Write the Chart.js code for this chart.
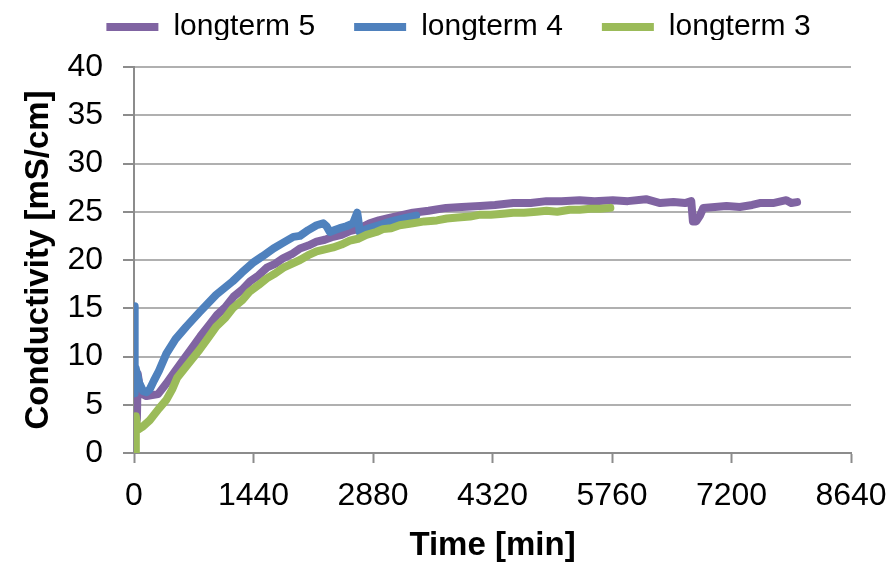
<!DOCTYPE html>
<html>
<head>
<meta charset="utf-8">
<script src="https://cdn.jsdelivr.net/npm/chart.js@4/dist/chart.umd.min.js"></script>
<style>
  html, body { margin: 0; padding: 0; background: #ffffff; }
  #wrap { width: 894px; height: 562px; }
</style>
</head>
<body>
<div id="wrap"><canvas id="chart" width="894" height="562"></canvas></div>
<script>
// Conductivity logs of three long-term runs: [time in min, conductivity in mS/cm]
const longterm5 = [
  [35,3.5],[45,8.2],[80,6.2],[150,5.9],[220,6.0],[290,6.1],[390,7.2],[490,8.4],[590,9.6],
  [700,10.9],[800,12.1],[900,13.2],[1000,14.3],[1100,15.1],[1200,16.2],[1300,16.9],
  [1400,17.8],[1500,18.4],[1600,19.2],[1700,19.6],[1800,20.2],[1900,20.6],[2000,21.2],
  [2100,21.5],[2200,21.9],[2300,22.1],[2400,22.4],[2500,22.6],[2600,23.0],[2700,23.2],
  [2840,23.8],[2950,24.1],[3050,24.3],[3200,24.6],[3360,24.9],[3550,25.1],[3760,25.4],
  [3950,25.5],[4170,25.6],[4350,25.7],[4570,25.9],[4780,25.9],[4970,26.1],[5150,26.1],
  [5370,26.2],[5550,26.1],[5770,26.2],[5950,26.1],[6170,26.3],[6340,25.9],[6500,26.0],
  [6640,25.9],[6715,26.1],[6735,24.0],[6775,24.0],[6820,24.6],[6860,25.4],[7000,25.5],
  [7140,25.6],[7300,25.5],[7450,25.7],[7540,25.9],[7700,25.9],[7860,26.2],[7920,25.9],
  [7990,26.0]
];
const longterm4 = [
  [0,15.2],[8,6.2],[20,8.8],[60,7.3],[110,6.4],[150,6.3],[190,6.6],[240,7.5],[300,8.5],
  [390,10.3],[500,11.8],[630,13.1],[790,14.6],[990,16.4],[1190,17.8],[1300,18.7],
  [1430,19.7],[1550,20.4],[1680,21.2],[1800,21.8],[1920,22.4],[2000,22.5],[2100,23.1],
  [2200,23.6],[2280,23.8],[2320,23.5],[2360,22.9],[2420,23.1],[2480,23.3],[2560,23.5],
  [2640,23.8],[2690,24.9],[2705,24.0],[2720,22.9],[2800,23.2],[2950,23.6],[3100,24.0],
  [3250,24.3],[3400,24.6]
];
const longterm3 = [
  [15,0.0],[22,3.8],[45,2.4],[100,2.7],[190,3.4],[300,4.6],[390,5.5],[460,6.6],[520,7.8],
  [640,9.1],[790,10.7],[900,12.0],[990,13.1],[1100,14.0],[1190,15.0],[1300,15.8],
  [1390,16.7],[1500,17.4],[1600,18.1],[1700,18.6],[1800,19.2],[1900,19.6],[2000,20.0],
  [2100,20.5],[2200,20.9],[2300,21.1],[2400,21.3],[2500,21.6],[2600,22.0],[2700,22.2],
  [2800,22.6],[2920,22.9],[3000,23.2],[3100,23.3],[3200,23.6],[3360,23.8],[3500,24.0],
  [3650,24.1],[3770,24.3],[3900,24.4],[4050,24.5],[4170,24.7],[4300,24.7],[4450,24.8],
  [4570,24.9],[4700,24.9],[4850,25.0],[4970,25.1],[5100,25.0],[5250,25.2],[5370,25.2],
  [5500,25.3],[5620,25.3],[5740,25.4]
];

const seriesNames = ['longterm 5', 'longterm 4', 'longterm 3'];
const seriesColors = ['#8064A2', '#4F81BD', '#9BBB59'];
const seriesData = [longterm5, longterm4, longterm3];
// later series are painted over earlier ones
const seriesOrder = [2, 1, 0];

const xTickStep = 1440;
const xMax = 8640;
const yTickStep = 5;
const yMax = 40;

const fontFamily = "'Liberation Sans', Arial, Helvetica, sans-serif";
Chart.defaults.font.family = fontFamily;
Chart.defaults.color = '#000000';

const gridColor = '#b0b0b0';
const axisColor = '#8c8c8c';

const datasets = seriesData.map((rows, i) => ({
  label: seriesNames[i],
  data: rows.map(([t, v]) => ({ x: t, y: v })),
  borderColor: seriesColors[i],
  backgroundColor: seriesColors[i],
  borderWidth: 8,
  borderCapStyle: 'round',
  borderJoinStyle: 'round',
  pointRadius: 0,
  pointHoverRadius: 0,
  tension: 0,
  fill: false,
  order: seriesOrder[i]
}));

// legend sits in a fixed band above the plot, nudged into place
const legendBand = {
  id: 'legendBand',
  afterInit(chart) {
    const legend = chart.legend;
    const fit = legend.fit.bind(legend);
    legend.fit = function () { fit(); this.height = 67; };
    const draw = legend.draw.bind(legend);
    legend.draw = function () {
      const ctx = this.ctx;
      ctx.save();
      ctx.translate(33, -27);
      draw();
      ctx.restore();
    };
  }
};

new Chart(document.getElementById('chart'), {
  type: 'line',
  data: { datasets },
  plugins: [legendBand],
  options: {
    responsive: false,
    animation: false,
    events: [],
    layout: { padding: { left: 0, right: 43, top: 0, bottom: 0 } },
    plugins: {
      tooltip: { enabled: false },
      legend: {
        position: 'top',
        labels: {
          usePointStyle: true,
          pointStyle: 'line',
          pointStyleWidth: 52,
          padding: 39,
          color: '#000000',
          font: { size: 30 },
          sort: (a, b) => a.datasetIndex - b.datasetIndex
        }
      }
    },
    scales: {
      x: {
        type: 'linear',
        min: 0,
        max: xMax,
        afterFit(scale) {
          scale.height = 109;
          scale.paddingLeft = 0;
          scale.paddingRight = 0;
        },
        ticks: {
          stepSize: xTickStep,
          padding: 14,
          font: { size: 32 },
          color: '#000000',
          maxRotation: 0,
          autoSkip: false,
          callback: (v) => String(v)
        },
        grid: {
          drawOnChartArea: false,
          drawTicks: true,
          tickLength: 10,
          tickWidth: 2,
          tickColor: axisColor,
          color: axisColor
        },
        border: { display: true, color: axisColor, width: 2 },
        title: {
          display: true,
          text: 'Time [min]',
          color: '#000000',
          font: { size: 33, weight: 'bold', lineHeight: 1 },
          padding: { top: 0, bottom: 0 }
        }
      },
      y: {
        type: 'linear',
        min: 0,
        max: yMax,
        afterFit(scale) {
          scale.width = 134;
          scale.paddingTop = 0;
          scale.paddingBottom = 0;
        },
        ticks: {
          stepSize: yTickStep,
          padding: 20,
          font: { size: 32 },
          color: '#000000',
          callback: (v) => String(v)
        },
        grid: {
          color: gridColor,
          lineWidth: 2,
          drawTicks: true,
          tickLength: 11,
          tickColor: axisColor,
          tickWidth: 2
        },
        border: { display: true, color: axisColor, width: 2 },
        title: {
          display: true,
          text: 'Conductivity [mS/cm]',
          color: '#000000',
          font: { size: 33, weight: 'bold', lineHeight: 1 },
          padding: { top: 22, bottom: 0 }
        }
      }
    }
  }
});
</script>
</body>
</html>
